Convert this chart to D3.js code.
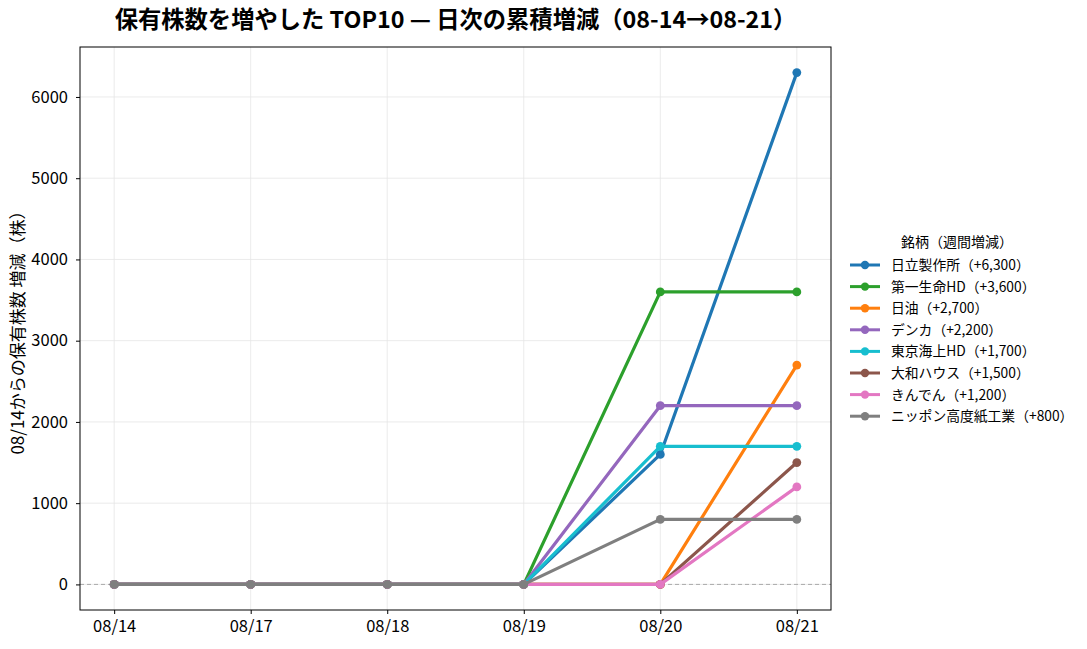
<!DOCTYPE html>
<html>
<head>
<meta charset="utf-8">
<script src="https://cdn.jsdelivr.net/npm/d3@7"></script>
<style>
  body { margin: 0; background: #fff; }
  text { font-family: "Noto Sans CJK JP", "Noto Sans", sans-serif; }
</style>
</head>
<body>
<div id="chart-area"></div>
<script>
const MARGIN = { LEFT: 80, RIGHT: 256, TOP: 47, BOTTOM: 39 }
const W = 1087, H = 649
const WIDTH = W - MARGIN.LEFT - MARGIN.RIGHT
const HEIGHT = H - MARGIN.TOP - MARGIN.BOTTOM

const dates = ["08/14", "08/17", "08/18", "08/19", "08/20", "08/21"]
const yTicks = [0, 1000, 2000, 3000, 4000, 5000, 6000]

const names = ["日立製作所", "第一生命HD", "日油", "デンカ", "東京海上HD", "大和ハウス", "きんでん", "ニッポン高度紙工業"]
const totals = [6300, 3600, 2700, 2200, 1700, 1500, 1200, 800]
const colors = ["#1f77b4", "#2ca02c", "#ff7f0e", "#9467bd", "#17becf", "#8c564b", "#e377c2", "#7f7f7f"]

const hitachi = [0, 0, 0, 0, 1600, 6300]
const daiichi = [0, 0, 0, 0, 3600, 3600]
const nichiyu = [0, 0, 0, 0, 0, 2700]
const denka   = [0, 0, 0, 0, 2200, 2200]
const tokio   = [0, 0, 0, 0, 1700, 1700]
const daiwa   = [0, 0, 0, 0, 0, 1500]
const kinden  = [0, 0, 0, 0, 0, 1200]
const nippon  = [0, 0, 0, 0, 800, 800]
const values = [hitachi, daiichi, nichiyu, denka, tokio, daiwa, kinden, nippon]

const series = names.map((n, i) => ({ name: n, total: totals[i], color: colors[i], vals: values[i] }))

const svg = d3.select("#chart-area").append("svg")
  .attr("width", W)
  .attr("height", H)

const g = svg.append("g")
  .attr("transform", `translate(${MARGIN.LEFT}, ${MARGIN.TOP})`)

// Title
svg.append("text")
  .attr("x", MARGIN.LEFT + WIDTH / 2)
  .attr("y", 28)
  .attr("text-anchor", "middle")
  .style("font-size", "23.3px")
  .style("font-weight", "bold")
  .text("保有株数を増やした TOP10 — 日次の累積増減（08-14→08-21）")

// scales (5% padding like matplotlib)
const x = d3.scalePoint()
  .domain(dates)
  .range([WIDTH * 0.0455, WIDTH * (1 - 0.0455)])

const yMax = d3.max(values, v => d3.max(v))
const pad = yMax * 0.05
const y = d3.scaleLinear()
  .domain([-pad, yMax + pad])
  .range([HEIGHT, 0])

// grid
g.append("g").selectAll("line")
  .data(dates).enter().append("line")
    .attr("x1", d => x(d)).attr("x2", d => x(d))
    .attr("y1", 0).attr("y2", HEIGHT)
    .attr("stroke", "#e6e6e6").attr("stroke-width", 0.8)
g.append("g").selectAll("line")
  .data(yTicks).enter().append("line")
    .attr("x1", 0).attr("x2", WIDTH)
    .attr("y1", d => y(d)).attr("y2", d => y(d))
    .attr("stroke", "#e6e6e6").attr("stroke-width", 0.8)

// zero line
g.append("line")
  .attr("x1", 0).attr("x2", WIDTH)
  .attr("y1", y(0)).attr("y2", y(0))
  .attr("stroke", "#aaaaaa")
  .attr("stroke-width", 1)
  .attr("stroke-dasharray", "4,3")

// lines
const line = d3.line()
  .x((d, i) => x(dates[i]))
  .y(d => y(d))

const sg = g.selectAll(".series")
  .data(series).enter().append("g")
    .attr("class", "series")

sg.append("path")
  .attr("d", d => line(d.vals))
  .attr("fill", "none")
  .attr("stroke", d => d.color)
  .attr("stroke-width", 3.2)
  .attr("stroke-linejoin", "round")

sg.selectAll("circle")
  .data(d => d.vals.map(v => ({ v, color: d.color })))
  .enter().append("circle")
    .attr("cx", (d, i) => x(dates[i]))
    .attr("cy", d => y(d.v))
    .attr("r", 4.4)
    .attr("fill", d => d.color)

// axes
const xAxis = g.append("g")
  .attr("transform", `translate(0, ${HEIGHT})`)
  .call(d3.axisBottom(x).tickSize(4).tickPadding(6))
const yAxis = g.append("g")
  .call(d3.axisLeft(y).tickValues(yTicks).tickSize(4).tickPadding(8).tickFormat(d => d))
;[xAxis, yAxis].forEach(a => {
  a.select(".domain").remove()
  a.selectAll("text").style("font-size", "16.5px").attr("fill", "#000")
  a.selectAll("line").attr("stroke", "#000")
})

// frame
g.append("rect")
  .attr("width", WIDTH).attr("height", HEIGHT)
  .attr("fill", "none").attr("stroke", "#000").attr("stroke-width", 1)

// Y label
svg.append("text")
  .attr("transform", `translate(24, ${MARGIN.TOP + HEIGHT / 2}) rotate(-90)`)
  .attr("text-anchor", "middle")
  .style("font-size", "17px")
  .text("08/14からの保有株数 増減（株）")

// legend
const lg = svg.append("g").attr("transform", "translate(850, 0)")
lg.append("text")
  .attr("x", 107).attr("y", 247)
  .attr("text-anchor", "middle")
  .style("font-size", "14px")
  .text("銘柄（週間増減）")

const item = lg.selectAll(".item")
  .data(series).enter().append("g")
    .attr("transform", (d, i) => `translate(0, ${265 + i * 21.6})`)
item.append("line")
  .attr("x1", 0).attr("x2", 30)
  .attr("stroke", d => d.color).attr("stroke-width", 3)
item.append("circle")
  .attr("cx", 15).attr("r", 4.2).attr("fill", d => d.color)
item.append("text")
  .attr("x", 41).attr("y", 5)
  .style("font-size", "13.8px")
  .text(d => `${d.name}（+${d3.format(",")(d.total)}）`)
</script>
</body>
</html>
